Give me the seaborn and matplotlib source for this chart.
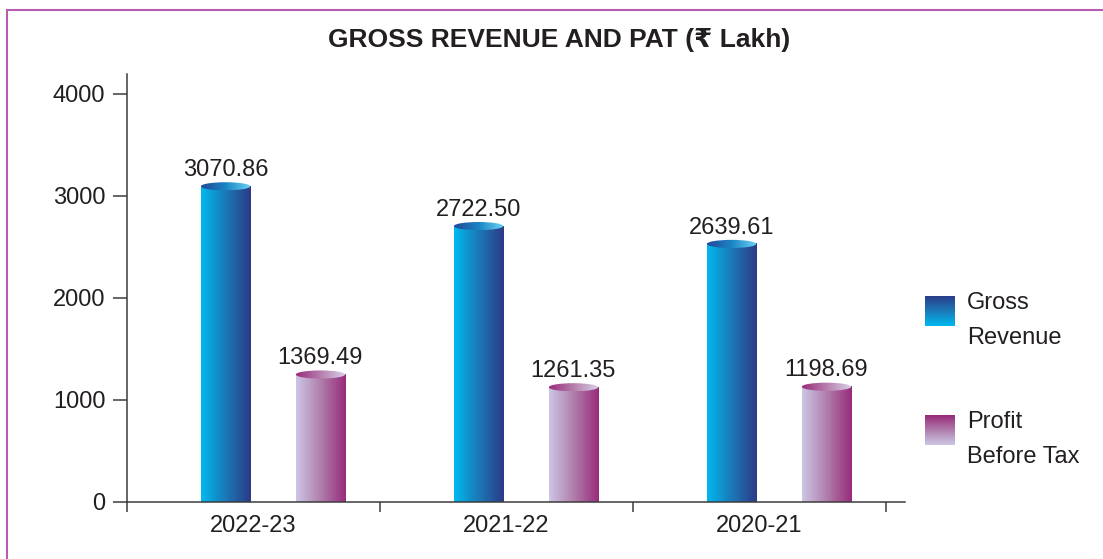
import matplotlib

matplotlib.use("Agg")
import matplotlib.pyplot as plt
import numpy as np
import pandas as pd
import seaborn as sns
from matplotlib.colors import LinearSegmentedColormap
from matplotlib.patches import Ellipse, Rectangle

YEARS = ["2022-23", "2021-22", "2020-21"]
SERIES = ["Gross Revenue", "Profit Before Tax"]
# cylinder heights as drawn in the source chart (not exactly to scale with the printed labels)
GROSS_REVENUE = [3095, 2705, 2530]
PROFIT_BEFORE_TAX = [1250, 1125, 1130]
# values printed above each cylinder
GROSS_REVENUE_LABELS = ["3070.86", "2722.50", "2639.61"]
PROFIT_BEFORE_TAX_LABELS = ["1369.49", "1261.35", "1198.69"]
LEGEND_LINES = [["Gross", "Revenue"], ["Profit", "Before Tax"]]
Y_TICKS = [0, 1000, 2000, 3000, 4000]
TITLE = "GROSS REVENUE AND PAT (\u20b9 Lakh)"

TEXT = "#231f20"
AXIS = "#3c3c3c"
BORDER = "#b65db3"
BLUE_SIDE = ["#00b9ef", "#1b78b6", "#2c3a88"]
BLUE_CAP = ["#22489a", "#1a86c4", "#6dd3f5"]
PINK_SIDE = ["#ccc7e4", "#b07dab", "#982b7b"]
PINK_CAP = ["#9a2d7c", "#b77fad", "#d8d3ea"]

FONT_SIZE = 17
CAP_HEIGHT = 80      # cylinder top ellipse, data units
PAIR_SHIFT = 0.077   # the bar pairs sit a little right of the group centre


def cmap(colors):
    return LinearSegmentedColormap.from_list("grad", colors)


def draw_cylinder(ax, bar, side, cap):
    x0, w, h = bar.get_x() + PAIR_SHIFT, bar.get_width(), bar.get_height()
    bar.set_visible(False)
    grad = np.linspace(0, 1, 256).reshape(1, -1)
    ax.imshow(grad, cmap=cmap(side), extent=(x0, x0 + w, 0, h), aspect="auto",
              zorder=2, interpolation="bilinear")
    top = Ellipse((x0 + w / 2, h), w, CAP_HEIGHT, facecolor="none", edgecolor="none")
    ax.add_patch(top)
    im = ax.imshow(grad, cmap=cmap(cap), aspect="auto", zorder=3, interpolation="bilinear",
                   extent=(x0, x0 + w, h - CAP_HEIGHT / 2, h + CAP_HEIGHT / 2))
    im.set_clip_path(top)
    return x0 + w / 2, h


def main():
    sns.set_style("white")
    plt.rcParams["font.family"] = ["Liberation Sans", "DejaVu Sans"]

    df = pd.DataFrame({
        "year": YEARS * 2,
        "series": [SERIES[0]] * 3 + [SERIES[1]] * 3,
        "value": GROSS_REVENUE + PROFIT_BEFORE_TAX,
    })

    fig = plt.figure(figsize=(11.03, 5.59), dpi=100)
    ax = fig.add_axes([127 / 1103, 57 / 559, 778 / 1103, 428 / 559])
    sns.barplot(data=df, x="year", y="value", hue="series", palette=[BLUE_SIDE[1], PINK_SIDE[1]],
                width=0.75, gap=0.48, saturation=1, legend=False, ax=ax)

    styles = [(BLUE_SIDE, BLUE_CAP, GROSS_REVENUE_LABELS), (PINK_SIDE, PINK_CAP, PROFIT_BEFORE_TAX_LABELS)]
    for container, (side, cap, labels) in zip(ax.containers, styles):
        for bar, label in zip(container, labels):
            cx, h = draw_cylinder(ax, bar, side, cap)
            ax.annotate(label, (cx, h), xytext=(0, 7.5), textcoords="offset points",
                        ha="center", va="baseline", fontsize=FONT_SIZE, color=TEXT)

    ax.set_xlim(-0.5, 2.575)
    ax.set_ylim(0, 4196)
    ax.set_yticks(Y_TICKS)
    ax.set_xticks(range(len(YEARS)))
    ax.set_xticklabels(YEARS)
    ax.set_xticks([-0.5, 0.5, 1.5, 2.5], minor=True)
    ax.set_xlabel("")
    ax.set_ylabel("")
    ax.tick_params(axis="y", direction="out", length=10, width=1.1, pad=5.5, color=AXIS,
                   labelsize=FONT_SIZE, labelcolor=TEXT, left=True)
    ax.tick_params(axis="x", which="major", length=0, pad=9, labelsize=FONT_SIZE, labelcolor=TEXT)
    ax.tick_params(axis="x", which="minor", direction="out", length=7, width=1.1, color=AXIS, bottom=True)
    for side in ["top", "right"]:
        ax.spines[side].set_visible(False)
    for side in ["left", "bottom"]:
        ax.spines[side].set_color(AXIS)
        ax.spines[side].set_linewidth(1.1)
    ax.set_facecolor("none")

    fig.text(559.5 / 1103, 1 - 40 / 559, TITLE, ha="center", va="center",
             fontsize=19, fontweight="bold", color=TEXT)

    # legend: gradient squares with two-line labels
    legend_tops = [296, 415]
    for top, side, lines in zip(legend_tops, [BLUE_SIDE, PINK_SIDE], LEGEND_LINES):
        sq = fig.add_axes([925 / 1103, 1 - (top + 30) / 559, 30 / 1103, 30 / 559])
        sq.imshow(np.linspace(1, 0, 64).reshape(-1, 1), cmap=cmap(side), aspect="auto")
        sq.axis("off")
        for i, line in enumerate(lines):
            fig.text(967 / 1103, 1 - (top + 7 + 35 * i) / 559, line, ha="left", va="center",
                     fontsize=FONT_SIZE, color=TEXT)

    fig.patches.append(Rectangle((7 / 1103, -0.1), 1.2, 0.1 + 1 - 10 / 559, transform=fig.transFigure,
                                 fill=False, edgecolor=BORDER, linewidth=1.5))

    fig.savefig("out.png", dpi=100)
    plt.close(fig)


if __name__ == "__main__":
    main()
